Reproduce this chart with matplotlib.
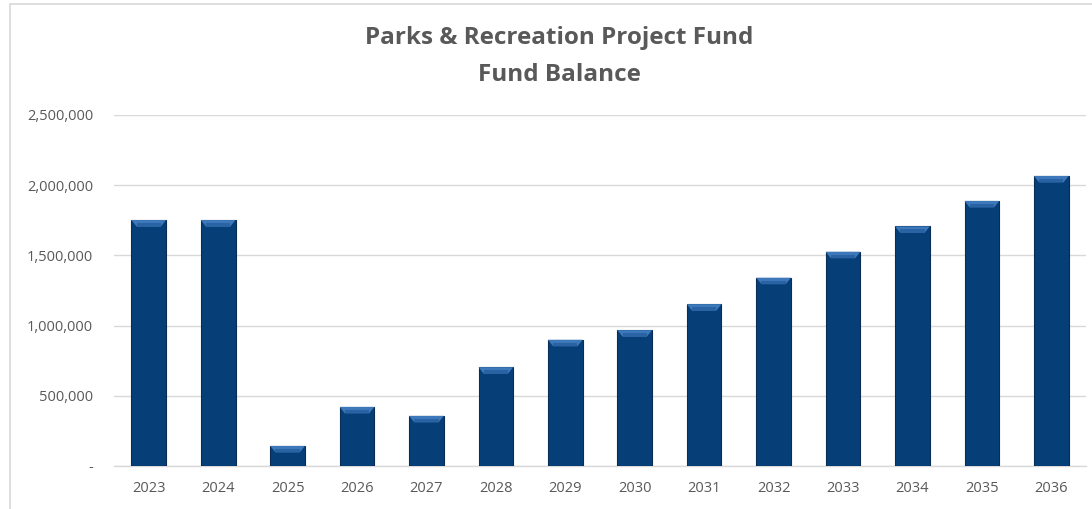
import matplotlib
matplotlib.use("Agg")
import matplotlib.pyplot as plt
from matplotlib.patches import Polygon, Rectangle
from matplotlib.ticker import FuncFormatter

years = ["2023", "2024", "2025", "2026", "2027", "2028", "2029", "2030",
         "2031", "2032", "2033", "2034", "2035", "2036"]
balance = [1752000, 1752000, 143000, 421000, 357000, 704000, 899000, 968000,
           1153000, 1341000, 1526000, 1707000, 1888000, 2066000]
y_ticks = [0, 500000, 1000000, 1500000, 2000000, 2500000]
title_lines = ["Parks & Recreation Project Fund", "Fund Balance"]

W, H = 1092, 509
fig = plt.figure(figsize=(W / 100, H / 100), dpi=100)
fig.patch.set_facecolor("white")

# chart-area border (extends past right/bottom edges as in the reference)
fig.add_artist(Rectangle((10 / W, -0.1), 1.2, (H - 4) / H + 0.1,
                         transform=fig.transFigure, fill=False,
                         edgecolor="#d9d9d9", linewidth=1.2))

ax = fig.add_axes([114 / W, (H - 466) / H, (1086 - 114) / W, (466 - 115) / H])
x = list(range(len(years)))
bw = 0.5
bars = ax.bar(x, balance, width=bw, color="#063E77", edgecolor="#0B2C55",
              linewidth=0.8, zorder=3)

# bevel cap on top of each bar
ymax = 2500000
dy = ymax * 6.5 / 351
dx = 0.075
for xi, v in zip(x, balance):
    cap = Polygon([(xi - bw / 2, v), (xi + bw / 2, v),
                   (xi + bw / 2 - dx, v - dy), (xi - bw / 2 + dx, v - dy)],
                  closed=True, facecolor="#3C78BA", edgecolor="none", zorder=4)
    ax.add_patch(cap)
    cap2 = Polygon([(xi - bw / 2 + dx, v - dy * 0.45), (xi + bw / 2 - dx, v - dy * 0.45),
                    (xi + bw / 2 - dx, v - dy), (xi - bw / 2 + dx, v - dy)],
                   closed=True, facecolor="#2A63A3", edgecolor="none", zorder=4)
    ax.add_patch(cap2)

ax.set_xlim(-0.5, len(years) - 0.5)
ax.set_ylim(0, ymax)
ax.set_yticks(y_ticks)
ax.yaxis.set_major_formatter(FuncFormatter(lambda v, p: "-" if v == 0 else f"{int(v):,}"))
ax.set_xticks(x)
ax.set_xticklabels(years)
ax.grid(axis="y", color="#d9d9d9", linewidth=1.0, zorder=0)
ax.set_axisbelow(True)
for s in ["top", "right", "left"]:
    ax.spines[s].set_visible(False)
ax.spines["bottom"].set_color("#d9d9d9")
ax.spines["bottom"].set_linewidth(1.0)
ax.tick_params(axis="both", length=0, colors="#595959", labelsize=10.5)
ax.tick_params(axis="y", pad=15)
ax.tick_params(axis="x", pad=11)
for lbl in ax.get_xticklabels() + ax.get_yticklabels():
    lbl.set_fontfamily("Open Sans")

fig.text(559 / W, 1 - 38 / H, title_lines[0], ha="center", va="center",
         fontsize=17.5, fontweight="bold", color="#595959", family="Open Sans")
fig.text(559 / W, 1 - 75 / H, title_lines[1], ha="center", va="center",
         fontsize=17.5, fontweight="bold", color="#595959", family="Open Sans")

fig.savefig("out.png", dpi=100, facecolor="white")
